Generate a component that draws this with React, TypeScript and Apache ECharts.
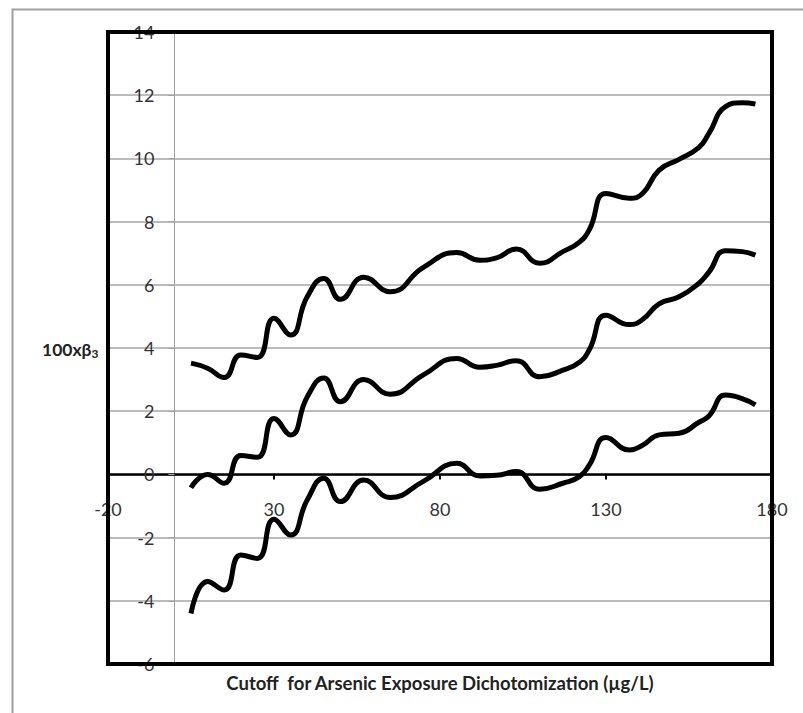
import React, { useEffect, useRef } from "react";
import * as echarts from "echarts";

const cutoffs = [5, 10, 15, 20, 25, 30, 35, 40, 45, 50, 57, 65, 75, 85, 92, 97, 103, 110, 117, 122, 125, 130, 137, 141, 146, 152, 158, 161, 166, 171, 175];
const upperCI = [3.52, 3.36, 3.07, 3.78, 3.70, 4.94, 4.41, 5.62, 6.20, 5.54, 6.24, 5.78, 6.55, 7.02, 6.78, 6.85, 7.13, 6.68, 7.05, 7.35, 7.75, 8.89, 8.74, 8.89, 9.63, 9.97, 10.35, 10.79, 11.64, 11.76, 11.72];
const estimate = [-0.42, 0.0, -0.28, 0.60, 0.54, 1.77, 1.25, 2.45, 3.05, 2.30, 3.00, 2.54, 3.15, 3.67, 3.39, 3.45, 3.60, 3.09, 3.30, 3.55, 3.95, 5.04, 4.74, 4.90, 5.40, 5.62, 6.05, 6.40, 7.08, 7.05, 6.94];
const lowerCI = [-4.40, -3.39, -3.66, -2.55, -2.66, -1.42, -1.92, -0.81, -0.12, -0.86, -0.18, -0.73, -0.22, 0.35, -0.05, -0.03, 0.09, -0.47, -0.28, -0.07, 0.30, 1.17, 0.77, 0.92, 1.25, 1.30, 1.65, 1.85, 2.51, 2.40, 2.20];

const xMin = -20;
const xMax = 180;
const yMin = -6;
const yMax = 14;

const xTitle = "Cutoff  for Arsenic Exposure Dichotomization (µg/L)";

export default function App() {
  const ref = useRef<HTMLDivElement>(null);
  useEffect(() => {
    if (!ref.current) return;
    const chart = echarts.init(ref.current, null, { renderer: "svg" });
    const gLeft = 108, gTop = 32, gW = 664, gH = 632;
    const xOffset = -(gH * (0 - yMin)) / (yMax - yMin);
    const yOffset = -(gW * (0 - xMin)) / (xMax - xMin);
    const mk = (vals: number[]) => ({
      type: "line",
      data: cutoffs.map((c, i) => [c, vals[i]]),
      smooth: 0.5,
      showSymbol: false,
      symbol: "none",
      lineStyle: { color: "#000", width: 5 },
      z: 5,
    });
    chart.setOption({
      animation: false,
      backgroundColor: "#fff",
      grid: { left: gLeft, top: gTop, width: gW, height: gH, show: false },
      xAxis: {
        type: "value",
        min: xMin,
        max: xMax,
        interval: 50,
        offset: xOffset,
        splitLine: { show: false },
        axisLine: { onZero: false, lineStyle: { color: "#000", width: 2.5 } },
        axisTick: { show: true, length: 5, lineStyle: { color: "#000", width: 2 } },
        axisLabel: { margin: 26, color: "#333", fontSize: 18, fontFamily: "Lato" },
      },
      yAxis: {
        type: "value",
        min: yMin,
        max: yMax,
        interval: 2,
        offset: yOffset,
        splitLine: { show: true, lineStyle: { color: "#a6a6a6", width: 1.5 } },
        axisLine: { onZero: false, lineStyle: { color: "#a0a0a0", width: 1 } },
        axisTick: { show: true, length: 6, lineStyle: { color: "#a0a0a0" } },
        axisLabel: { margin: 20, color: "#333", fontSize: 18, fontFamily: "Lato" },
      },
      series: [mk(upperCI), mk(estimate), mk(lowerCI)],
      graphic: [
        {
          type: "rect",
          z: 100,
          shape: { x: 12.5, y: 9.5, width: 1000, height: 1000 },
          style: { fill: "none", stroke: "#a0a0a0", lineWidth: 2 },
        },
        {
          type: "rect",
          z: 100,
          shape: { x: gLeft, y: gTop, width: gW, height: gH },
          style: { fill: "none", stroke: "#000", lineWidth: 4 },
        },
        {
          type: "text",
          z: 100,
          x: 42,
          y: 349,
          style: {
            text: "{a|100xβ}{s|3}",
            verticalAlign: "middle",
            rich: {
              a: { fontFamily: "Lato", fontWeight: "bold", fontSize: 17.5, fill: "#222", lineHeight: 22 },
              s: { fontFamily: "Lato", fontWeight: "bold", fontSize: 12, fill: "#222", lineHeight: 22, padding: [9, 0, 0, 0] },
            },
          },
        },
        {
          type: "text",
          z: 100,
          x: 440,
          y: 683,
          style: {
            text: xTitle,
            align: "center",
            verticalAlign: "middle",
            fontFamily: "Lato",
            fontWeight: "bold",
            fontSize: 18.5,
            fill: "#222",
          },
        },
      ],
    });
    return () => chart.dispose();
  }, []);
  return (
    <div
      ref={ref}
      style={{ position: "fixed", left: 0, top: 0, width: 803, height: 713 }}
    />
  );
}
